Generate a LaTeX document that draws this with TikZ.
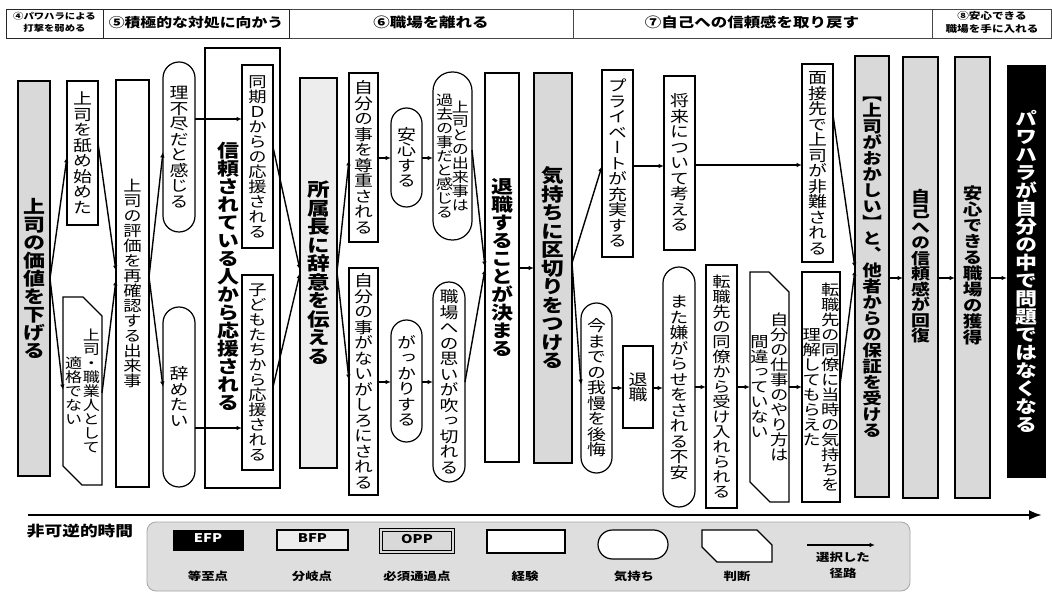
\documentclass[tikz,border=0pt]{standalone}
\usepackage{fontspec}
\usepackage{graphicx}
\setmainfont{Noto Sans CJK JP}
\newfontfamily\vfont[RawFeature=+vert]{Noto Sans CJK JP}
\usetikzlibrary{arrows.meta}
\definecolor{oppgray}{HTML}{D9D9D9}
\definecolor{bfpgray}{HTML}{EDEDED}
\definecolor{leggray}{HTML}{DEDEDE}
\ExplSyntaxOn
\seq_new:N \l__vt_seq
\dim_new:N \l__vt_gap_dim
\cs_new_protected:Npn \__vt_cell:n #1
  { \hbox_to_wd:nn { 1em } { \hss \vrule height0.88em depth0.12em width0pt #1 \hss } }
\cs_new_protected:Npn \__vt_col:n #1
  { $ \vcenter { \offinterlineskip \tl_map_function:nN {#1} \__vt_cell:n } $ }
\NewDocumentCommand \VT { O{} m m m }
  {
    \group_begin:
    \vfont #1 \fontsize{#2}{#2} \selectfont
    \dim_set:Nn \l__vt_gap_dim {#3}
    \seq_set_split:Nnn \l__vt_seq { \\ } {#4}
    \seq_reverse:N \l__vt_seq
    \scalebox{1.22}[1]{ \hbox:n { \seq_map_indexed_inline:Nn \l__vt_seq { \int_compare:nNnT {##1} > {1} { \skip_horizontal:N \l__vt_gap_dim } \__vt_col:n {##2} } } }
    \group_end:
  }
\ExplSyntaxOff
\newcommand\HT[4][]{\scalebox{1.22}[1]{#1\fontsize{#2}{#3}\selectfont\begin{tabular}{@{}c@{}}#4\end{tabular}}}
\newcommand\bx[7]{\node[#6, minimum width={(#4-#2)*1pt}, minimum height={(#5-#3)*1pt}] (#1) at ({(#2+#4)/2},{(#3+#5)/2}) {#7};}
\newcommand\jpath[3][]{\draw[line width=1.2pt,#1] (#2.north west) -- ([xshift=-#3]#2.north east) -- ([yshift=-#3]#2.north east) -- (#2.south east) -- ([xshift=#3]#2.south west) -- ([yshift=#3]#2.south west) -- cycle;}
\tikzset{
  base/.style={draw, inner sep=0pt, outer sep=0pt, line width=1.2pt, fill=white},
  box/.style={base},
  tbox/.style={base, line width=2pt},
  opp/.style={base, line width=2pt, fill=oppgray},
  bfp/.style={base, line width=2pt, fill=bfpgray},
  efp/.style={base, fill=black, line width=1pt},
  feel/.style={base, rounded corners=#1},
  feel/.default=15.5pt,
  judge/.style={inner sep=0pt, outer sep=0pt},
  legbg/.style={draw=gray!70, fill=leggray, line width=0.8pt, rounded corners=9pt, inner sep=0pt, outer sep=0pt},
  oppleg/.style={inner sep=0pt, outer sep=0pt, fill=oppgray, draw=black, double=oppgray, double distance=1.6pt, line width=0.8pt},
  arr/.style={line width=1.4pt, -{Latex[length=5.5pt,width=4.5pt]}},
  hdr/.style={line width=0.9pt, draw=gray!55!black},
  hdrk/.style={line width=0.9pt, draw=black!85},
  txt/.style={inner sep=0pt, outer sep=0pt},
}
\begin{document}
\begin{tikzpicture}[x=1pt,y=-1pt]
\useasboundingbox[fill=white] (0,0) rectangle (1052,593);
% header
\draw[hdr] (289,9) -- (1051,9) -- (1051,38) -- (289,38);
\draw[hdrk] (289,9) -- (6,9) -- (6,38) -- (289,38) -- cycle;
\draw[hdrk] (103,9) -- (103,38);
\foreach \x in {573,932} \draw[hdr] (\x,9) -- (\x,38);
\node[txt] (h4) at (54.5,23.5) {\HT[\bfseries]{8.5pt}{12pt}{④パワハラによる\\打撃を弱める}};
\node[txt] (h5) at (196,23.5) {\HT[\bfseries]{13pt}{13pt}{⑤積極的な対処に向かう}};
\node[txt] (h6) at (431,23.5) {\HT[\bfseries]{13.5pt}{13.5pt}{⑥職場を離れる}};
\node[txt] (h7) at (752,23.5) {\HT[\bfseries]{13.5pt}{13.5pt}{⑦自己への信頼感を取り戻す}};
\node[txt] (h8) at (992,23.5) {\HT[\bfseries]{9.5pt}{13pt}{⑧安心できる\\職場を手に入れる}};
% column 1
\bx{A1}{18}{81}{50}{476}{opp}{\VT[\bfseries]{18pt}{0pt}{上司の価値を下げる}}
\bx{A2}{67}{81}{98}{225}{box}{\VT{15.5pt}{0pt}{上司を舐め始めた}}
\bx{A3}{63}{297}{102}{485}{judge}{}
\jpath{A3}{19pt}
\node[txt] (A3t) at (A3.center) {\VT{14pt}{0.5pt}{上司・職業人として\\適格でない}};
\bx{A4}{116}{80}{149}{487}{tbox}{\VT{15pt}{0pt}{上司の評価を再確認する出来事}}
\bx{A5}{163}{62}{195}{232}{feel=16pt}{\VT{15.5pt}{0pt}{理不尽だと感じる}}
\bx{A6}{163}{307}{195}{487}{feel=16pt}{\VT{15.5pt}{0pt}{辞めたい}}
% column 2
\bx{B0}{205}{48}{280}{488}{tbox}{}
\node[txt] (B0t) at (228,277) {\VT[\bfseries]{18pt}{0pt}{信頼されている人から応援される}};
\bx{B1}{242}{65}{273}{248}{box}{\VT{15pt}{0pt}{同期Ｄからの応援される}}
\bx{B2}{242}{275}{273}{470}{box}{\VT{15pt}{0pt}{子どもたちから応援される}}
\bx{B3}{300}{78}{337}{468}{bfp}{\VT[\bfseries]{18.5pt}{0pt}{所属長に辞意を伝える}}
% column 3
\bx{C1}{349}{73}{378}{242}{box}{\VT{15.5pt}{0pt}{自分の事を尊重される}}
\bx{C2}{349}{268}{378}{495}{box}{\VT{15.5pt}{0pt}{自分の事がないがしろにされる}}
\bx{C3}{391}{108}{422}{207}{feel=15.5pt}{\VT{15.5pt}{0pt}{安心する}}
\bx{C4}{433}{72}{472}{240}{feel=19pt}{\VT{14pt}{-1pt}{上司との出来事は\\過去の事だと感じる}}
\bx{C5}{391}{320}{422}{442}{feel=15.5pt}{\VT{15.5pt}{0pt}{がっかりする}}
\bx{C6}{433}{282}{465}{482}{feel=16pt}{\VT{15.5pt}{0pt}{職場への思いが吹っ切れる}}
% column 4
\bx{D1}{485}{73}{519}{462}{tbox}{\VT[\bfseries]{18pt}{0pt}{退職することが決まる}}
\bx{D2}{534}{73}{572}{463}{opp}{\VT[\bfseries]{18.5pt}{0pt}{気持ちに区切りをつける}}
% column 5
\bx{E1}{602}{70}{633}{257}{box}{\VT{15.5pt}{0pt}{プライベートが充実する}}
\bx{E2}{664}{76}{695}{250}{box}{\VT{15.5pt}{0pt}{将来について考える}}
\bx{E3}{581}{303}{612}{473}{feel=15.5pt}{\VT{15.5pt}{0pt}{今までの我慢を後悔}}
\bx{E4}{623}{346}{653}{428}{box}{\VT{15.5pt}{0pt}{退職}}
\bx{E5}{663}{267}{695}{507}{feel=16pt}{\VT{15.5pt}{0pt}{また嫌がらせをされる不安}}
\bx{E6}{706}{265}{737}{508}{box}{\VT{15pt}{0pt}{転職先の同僚から受け入れられる}}
\bx{E7}{750}{272}{789}{502}{judge}{}
\jpath{E7}{20pt}
\node[txt] (E7t) at (E7.center) {\VT{15pt}{1.2pt}{自分の仕事のやり方は\\間違っていない}};
\bx{E8}{802}{272}{840}{502}{box}{\VT{15pt}{0pt}{転職先の同僚に当時の気持ちを\\理解してもらえた}}
\bx{E9}{802}{64}{833}{262}{box}{\VT{15.5pt}{0pt}{面接先で上司が非難される}}
% right column
\bx{F1}{855}{56}{889}{497}{opp}{}
\node[txt] (F1t) at (872,262) {\VT[\bfseries]{16pt}{0pt}{【上司がおかしい】と、他者からの保証を受ける}};
\bx{F2}{903}{57}{938}{498}{opp}{}
\node[txt] (F2t) at (920.5,266) {\VT[\bfseries]{15.5pt}{0pt}{自己への信頼感が回復}};
\bx{F3}{955}{57}{990}{498}{opp}{}
\node[txt] (F3t) at (972.5,265) {\VT[\bfseries]{16pt}{0pt}{安心できる職場の獲得}};
\bx{F4}{1007}{66}{1045}{477}{efp}{\VT[\bfseries\color{white}]{18pt}{0pt}{パワハラが自分の中で問題ではなくなる}}
% connectors
\draw[arr] (A1.east) -- (A2.west |- 0,157);
\draw[arr] (A1.east) -- (A3.west |- 0,390);
\draw[arr] (A2.east |- 0,143) -- (A4.west |- 0,271);
\draw[arr] (A3.east |- 0,393) -- (A4.west |- 0,280);
\draw[arr] (A4.east |- 0,277) -- (A5.west |- 0,152);
\draw[arr] (A4.east |- 0,277) -- (A6.west |- 0,387);
\draw[arr] (A5.east |- 0,119) -- (B1.west |- 0,119);
\draw[arr] (A6.east |- 0,428) -- (B2.west |- 0,428);
\draw[arr] (B1.east |- 0,147) -- (B3.west |- 0,270);
\draw[arr] (B2.east |- 0,387) -- (B3.west |- 0,273);
\draw[arr] (B3.east |- 0,272) -- (C1.west |- 0,160);
\draw[arr] (B3.east |- 0,272) -- (C2.west |- 0,380);
\draw[arr] (C1.east |- 0,158) -- (C3.west |- 0,158);
\draw[arr] (C3.east |- 0,158) -- (C4.west |- 0,158);
\draw[arr] (C2.east |- 0,382) -- (C5.west |- 0,382);
\draw[arr] (C5.east |- 0,382) -- (C6.west |- 0,382);
\draw[arr] (C4.east |- 0,150) -- (D1.west |- 0,267);
\draw[arr] (C6.east |- 0,382) -- (D1.west |- 0,269);
\draw[arr] (D1.east |- 0,268) -- (D2.west |- 0,268);
\draw[arr] (D2.east |- 0,263) -- (E1.west |- 0,166);
\draw[arr] (D2.east |- 0,263) -- (E3.west |- 0,385);
\draw[arr] (E1.east |- 0,166) -- (E2.west |- 0,166);
\draw[arr] (E2.east |- 0,165) -- (E9.west |- 0,165);
\draw[arr] (E3.east |- 0,388) -- (E4.west |- 0,388);
\draw[arr] (E4.east |- 0,388) -- (E5.west |- 0,388);
\draw[arr] (E5.east |- 0,387) -- (E6.west |- 0,387);
\draw[arr] (E6.east |- 0,387) -- (E7.west |- 0,387);
\draw[arr] (E7.east |- 0,387) -- (E8.west |- 0,387);
\draw[arr] (E9.east |- 0,115) -- (F1.west |- 0,268);
\draw[arr] (E8.east |- 0,385) -- (F1.west |- 0,270);
\draw[arr] (F1.east |- 0,278) -- (F2.west |- 0,278);
\draw[arr] (F2.east |- 0,278) -- (F3.west |- 0,278);
\draw[arr] (F3.east |- 0,278) -- (F4.west |- 0,278);
% time axis
\coordinate (tl1) at (28,515);
\coordinate (tl2) at (1042,515);
\draw[line width=2.6pt, -{Latex[length=13pt,width=10pt]}] (tl1) -- (tl2);
\node[txt] (tlab) at (80,532) {\HT[\bfseries]{14.5pt}{14.5pt}{非可逆的時間}};
% legend
\bx{leg}{147}{522}{910}{591}{legbg}{}
\bx{lEFP}{173}{530}{243}{550}{efp}{\HT[\bfseries\color{white}]{12pt}{12pt}{EFP}}
\bx{lBFP}{277}{530}{348}{550}{bfp,line width=1.5pt}{\HT[\bfseries]{12pt}{12pt}{BFP}}
\bx{lOPP}{381}{530}{453}{552}{oppleg}{\HT[\bfseries]{12pt}{12pt}{OPP}}
\bx{lEXP}{487}{530}{565}{553}{box,line width=1.5pt}{}
\bx{lFEEL}{598}{530}{668}{559}{feel=14.5pt}{}
\bx{lJUD}{702}{530}{772}{562}{judge}{}
\jpath[fill=white]{lJUD}{15pt}
\coordinate (la1) at (807,545);
\coordinate (la2) at (875,545);
\draw[line width=1.2pt, -{Latex[length=5.5pt,width=4.5pt]}] (la1) -- (la2);
\node[txt] (t1) at (208,577) {\HT[\bfseries]{11pt}{11pt}{等至点}};
\node[txt] (t2) at (312,577) {\HT[\bfseries]{11pt}{11pt}{分岐点}};
\node[txt] (t3) at (417,577) {\HT[\bfseries]{11pt}{11pt}{必須通過点}};
\node[txt] (t4) at (525,577) {\HT[\bfseries]{11pt}{11pt}{経験}};
\node[txt] (t5) at (634,577) {\HT[\bfseries]{11pt}{11pt}{気持ち}};
\node[txt] (t6) at (737,577) {\HT[\bfseries]{11pt}{11pt}{判断}};
\node[txt] (t7) at (843,566) {\HT[\bfseries]{11pt}{16pt}{選択した\\径路}};
\end{tikzpicture}
\end{document}
